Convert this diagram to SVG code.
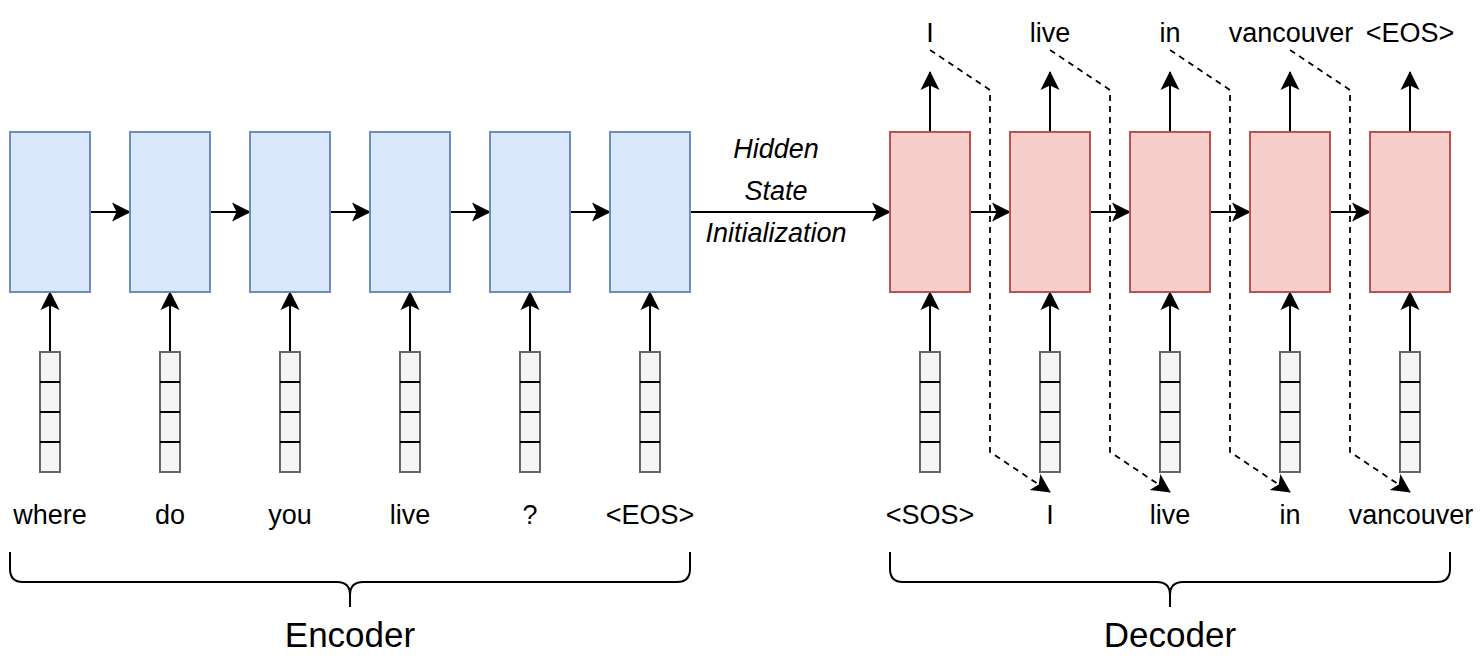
<svg xmlns="http://www.w3.org/2000/svg" width="1484" height="663" viewBox="0 0 1484 663">
<style>
  .enc { fill: #dae8fc; stroke: #6c8ebf; stroke-width: 2; }
  .dec { fill: #f8cecc; stroke: #b85450; stroke-width: 2; }
  .emb { fill: #f5f5f5; stroke: #666666; stroke-width: 2; }
  .div { stroke: #000000; stroke-width: 2; }
  .arr { fill: none; stroke: #000000; stroke-width: 2; marker-end: url(#ah); }
  .dash { fill: none; stroke: #000000; stroke-width: 1.8; stroke-dasharray: 6 5; marker-end: url(#ah); }
  .brace { fill: none; stroke: #000000; stroke-width: 2; }
  text { font-family: "Liberation Sans", Arial, Helvetica, sans-serif; fill: #000000; text-anchor: middle; }
  .lbl { font-size: 27px; }
  .it { font-size: 27px; font-style: italic; }
  .big { font-size: 35px; }
</style>
<defs>
  <marker id="ah" markerUnits="userSpaceOnUse" viewBox="-22 -12 24 24" refX="0" refY="0" markerWidth="24" markerHeight="24" orient="auto">
    <path d="M1,0 L-18,-9.5 L-13.5,0 L-18,9.5 Z" fill="#000000" stroke="none"/>
  </marker>
</defs>

<g id="connectors">
  <path class="arr" d="M90,212 L130,212"/>
  <path class="arr" d="M210,212 L250,212"/>
  <path class="arr" d="M330,212 L370,212"/>
  <path class="arr" d="M450,212 L490,212"/>
  <path class="arr" d="M570,212 L610,212"/>
  <path class="arr" d="M690,212 L890,212"/>
  <path class="arr" d="M970,212 L1010,212"/>
  <path class="arr" d="M1090,212 L1130,212"/>
  <path class="arr" d="M1210,212 L1250,212"/>
  <path class="arr" d="M1330,212 L1370,212"/>
  <path class="arr" d="M50,352 L50,292"/>
  <path class="arr" d="M170,352 L170,292"/>
  <path class="arr" d="M290,352 L290,292"/>
  <path class="arr" d="M410,352 L410,292"/>
  <path class="arr" d="M530,352 L530,292"/>
  <path class="arr" d="M650,352 L650,292"/>
  <path class="arr" d="M930,352 L930,292"/>
  <path class="arr" d="M1050,352 L1050,292"/>
  <path class="arr" d="M1170,352 L1170,292"/>
  <path class="arr" d="M1290,352 L1290,292"/>
  <path class="arr" d="M1410,352 L1410,292"/>
  <path class="arr" d="M930,132 L930,72"/>
  <path class="arr" d="M1050,132 L1050,72"/>
  <path class="arr" d="M1170,132 L1170,72"/>
  <path class="arr" d="M1290,132 L1290,72"/>
  <path class="arr" d="M1410,132 L1410,72"/>
  <path class="dash" d="M930,50 L990,90 L990,452 L1050,492"/>
  <path class="dash" d="M1050,50 L1110,90 L1110,452 L1170,492"/>
  <path class="dash" d="M1170,50 L1230,90 L1230,452 L1290,492"/>
  <path class="dash" d="M1290,50 L1350,90 L1350,452 L1410,492"/>
</g>

<g id="enc1"><rect class="enc" x="10" y="132" width="80" height="160"/></g>
<g id="enc2"><rect class="enc" x="130" y="132" width="80" height="160"/></g>
<g id="enc3"><rect class="enc" x="250" y="132" width="80" height="160"/></g>
<g id="enc4"><rect class="enc" x="370" y="132" width="80" height="160"/></g>
<g id="enc5"><rect class="enc" x="490" y="132" width="80" height="160"/></g>
<g id="enc6"><rect class="enc" x="610" y="132" width="80" height="160"/></g>

<g id="dec1"><rect class="dec" x="890" y="132" width="80" height="160"/></g>
<g id="dec2"><rect class="dec" x="1010" y="132" width="80" height="160"/></g>
<g id="dec3"><rect class="dec" x="1130" y="132" width="80" height="160"/></g>
<g id="dec4"><rect class="dec" x="1250" y="132" width="80" height="160"/></g>
<g id="dec5"><rect class="dec" x="1370" y="132" width="80" height="160"/></g>

<defs>
  <g id="vec">
    <rect class="emb" x="-10" y="0" width="20" height="120"/>
    <line class="div" x1="-10" y1="30" x2="10" y2="30"/>
    <line class="div" x1="-10" y1="60" x2="10" y2="60"/>
    <line class="div" x1="-10" y1="90" x2="10" y2="90"/>
  </g>
</defs>
<g id="emb1"><use href="#vec" x="50" y="352"/></g>
<g id="emb2"><use href="#vec" x="170" y="352"/></g>
<g id="emb3"><use href="#vec" x="290" y="352"/></g>
<g id="emb4"><use href="#vec" x="410" y="352"/></g>
<g id="emb5"><use href="#vec" x="530" y="352"/></g>
<g id="emb6"><use href="#vec" x="650" y="352"/></g>
<g id="emb7"><use href="#vec" x="930" y="352"/></g>
<g id="emb8"><use href="#vec" x="1050" y="352"/></g>
<g id="emb9"><use href="#vec" x="1170" y="352"/></g>
<g id="emb10"><use href="#vec" x="1290" y="352"/></g>
<g id="emb11"><use href="#vec" x="1410" y="352"/></g>

<g id="hidden-label">
  <text class="it" x="776" y="158">Hidden</text>
  <text class="it" x="776" y="200">State</text>
  <text class="it" x="776" y="242">Initialization</text>
</g>

<g id="input-labels">
  <text class="lbl" x="50" y="524">where</text>
  <text class="lbl" x="170" y="524">do</text>
  <text class="lbl" x="290" y="524">you</text>
  <text class="lbl" x="410" y="524">live</text>
  <text class="lbl" x="530" y="524">?</text>
  <text class="lbl" x="650" y="524">&lt;EOS&gt;</text>
  <text class="lbl" x="930" y="524">&lt;SOS&gt;</text>
  <text class="lbl" x="1050" y="524">I</text>
  <text class="lbl" x="1170" y="524">live</text>
  <text class="lbl" x="1290" y="524">in</text>
  <text class="lbl" x="1411" y="524">vancouver</text>
</g>

<g id="output-labels">
  <text class="lbl" x="930" y="42">I</text>
  <text class="lbl" x="1050" y="42">live</text>
  <text class="lbl" x="1170" y="42">in</text>
  <text class="lbl" x="1291" y="42">vancouver</text>
  <text class="lbl" x="1410" y="42">&lt;EOS&gt;</text>
</g>

<g id="encoder-brace">
  <path class="brace" d="M10,552 L10,569 Q10,582 23,582 L337,582 Q350,582 350,595 L350,607 M350,595 Q350,582 363,582 L677,582 Q690,582 690,569 L690,552"/>
  <text class="big" x="350" y="647">Encoder</text>
</g>
<g id="decoder-brace">
  <path class="brace" d="M890,552 L890,569 Q890,582 903,582 L1157,582 Q1170,582 1170,595 L1170,607 M1170,595 Q1170,582 1183,582 L1437,582 Q1450,582 1450,569 L1450,552"/>
  <text class="big" x="1170" y="647">Decoder</text>
</g>
</svg>
